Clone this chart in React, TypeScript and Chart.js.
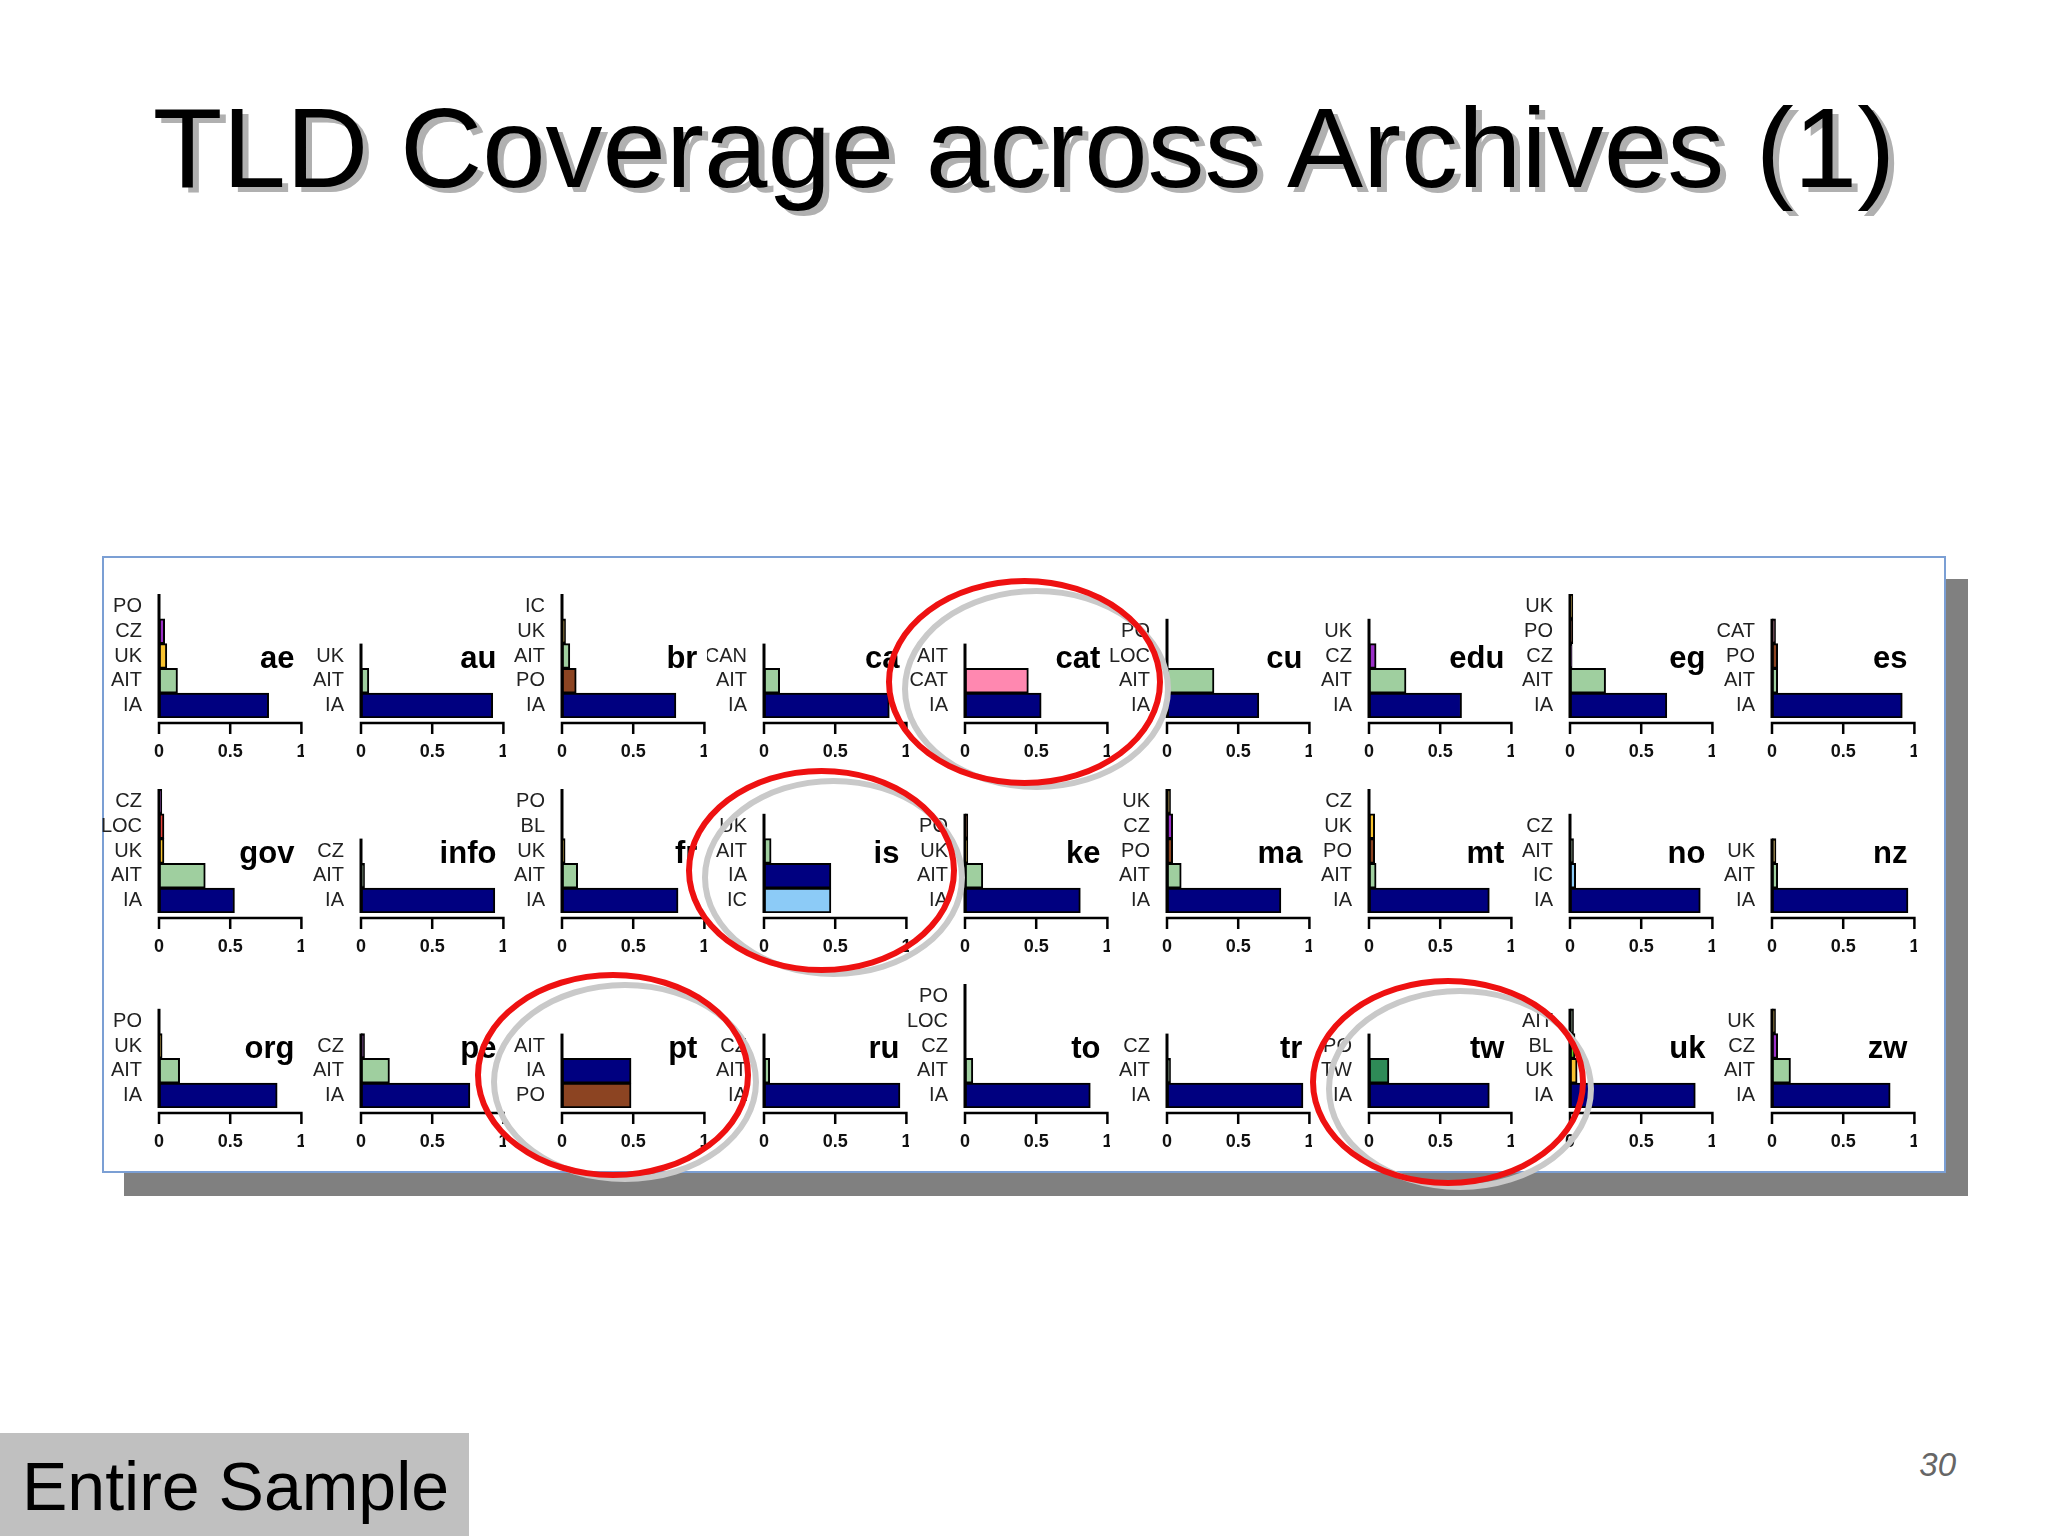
import React, { useEffect, useRef } from 'react';
import { Chart, registerables } from 'chart.js';

Chart.register(...registerables);

// panel names, in reading order (3 rows of 9)
const tlds = [
  'ae', 'au', 'br', 'ca', 'cat', 'cu', 'edu', 'eg', 'es',
  'gov', 'info', 'fr', 'is', 'ke', 'ma', 'mt', 'no', 'nz',
  'org', 'pe', 'pt', 'ru', 'to', 'tr', 'tw', 'uk', 'zw',
];

// archives per panel, top to bottom
const panelCategories: string[][] = [
  ['PO', 'CZ', 'UK', 'AIT', 'IA'],
  ['UK', 'AIT', 'IA'],
  ['IC', 'UK', 'AIT', 'PO', 'IA'],
  ['CAN', 'AIT', 'IA'],
  ['AIT', 'CAT', 'IA'],
  ['PO', 'LOC', 'AIT', 'IA'],
  ['UK', 'CZ', 'AIT', 'IA'],
  ['UK', 'PO', 'CZ', 'AIT', 'IA'],
  ['CAT', 'PO', 'AIT', 'IA'],
  ['CZ', 'LOC', 'UK', 'AIT', 'IA'],
  ['CZ', 'AIT', 'IA'],
  ['PO', 'BL', 'UK', 'AIT', 'IA'],
  ['UK', 'AIT', 'IA', 'IC'],
  ['PO', 'UK', 'AIT', 'IA'],
  ['UK', 'CZ', 'PO', 'AIT', 'IA'],
  ['CZ', 'UK', 'PO', 'AIT', 'IA'],
  ['CZ', 'AIT', 'IC', 'IA'],
  ['UK', 'AIT', 'IA'],
  ['PO', 'UK', 'AIT', 'IA'],
  ['CZ', 'AIT', 'IA'],
  ['AIT', 'IA', 'PO'],
  ['CZ', 'AIT', 'IA'],
  ['PO', 'LOC', 'CZ', 'AIT', 'IA'],
  ['CZ', 'AIT', 'IA'],
  ['PO', 'TW', 'IA'],
  ['AIT', 'BL', 'UK', 'IA'],
  ['UK', 'CZ', 'AIT', 'IA'],
];

// coverage share per archive, same order as above
const panelValues: number[][] = [
  [0, 0.04, 0.055, 0.13, 0.77],
  [0, 0.055, 0.925],
  [0, 0.025, 0.055, 0.1, 0.8],
  [0, 0.11, 0.88],
  [0, 0.445, 0.535],
  [0, 0, 0.33, 0.645],
  [0, 0.05, 0.26, 0.65],
  [0.02, 0.02, 0.015, 0.25, 0.68],
  [0.025, 0.04, 0.04, 0.915],
  [0.02, 0.035, 0.035, 0.325, 0.53],
  [0, 0.025, 0.94],
  [0, 0, 0.022, 0.11, 0.815],
  [0, 0.05, 0.47, 0.47],
  [0.02, 0.02, 0.125, 0.81],
  [0.025, 0.04, 0.04, 0.1, 0.8],
  [0, 0.04, 0.04, 0.05, 0.845],
  [0, 0.025, 0.04, 0.915],
  [0.028, 0.04, 0.955],
  [0, 0.022, 0.145, 0.83],
  [0.025, 0.2, 0.765],
  [0, 0.485, 0.485],
  [0, 0.04, 0.955],
  [0, 0, 0, 0.055, 0.88],
  [0, 0.025, 0.955],
  [0, 0.14, 0.845],
  [0.025, 0.035, 0.05, 0.88],
  [0.025, 0.04, 0.13, 0.83],
];

const xTicks = [0, 0.5, 1];

const archiveColors: Record<string, string> = {
  IA: '#000080',
  AIT: '#9fcf9f',
  UK: '#f8c330',
  CZ: '#9b30c8',
  PO: '#8c4422',
  CAT: '#ff88b0',
  IC: '#8ccbf7',
  LOC: '#e8443a',
  TW: '#2e8b57',
  BL: '#66cc22',
  CAN: '#cccccc',
};

const SLOTS = 5;
const FONT = '"Liberation Sans", Arial, Helvetica, sans-serif';
const PANEL_W = 202;
const PANEL_H = 212;

const makeDecor = (name: string, nReal: number) => ({
  id: 'panelDecor',
  afterDraw(chart: any) {
    const { ctx, chartArea } = chart;
    const xs = chart.scales.x;
    const ys = chart.scales.y;
    const slot = (chartArea.bottom - chartArea.top) / SLOTS;
    const x0 = xs.getPixelForValue(0);
    const x1 = xs.getPixelForValue(1);
    const topY = ys.getPixelForTick(SLOTS - nReal) - slot / 2;

    ctx.save();
    ctx.strokeStyle = '#000';
    ctx.lineWidth = 3;
    // y axis only spans the archives that exist
    ctx.beginPath();
    ctx.moveTo(x0, topY);
    ctx.lineTo(x0, chartArea.bottom);
    ctx.stroke();

    // detached x axis, R style
    const axisY = chartArea.bottom + 5;
    ctx.lineWidth = 2.5;
    ctx.beginPath();
    ctx.moveTo(x0 - 1.25, axisY);
    ctx.lineTo(x1 + 1.25, axisY);
    xTicks.forEach((v) => {
      const px = xs.getPixelForValue(v);
      ctx.moveTo(px, axisY);
      ctx.lineTo(px, axisY + 11);
    });
    ctx.stroke();

    ctx.fillStyle = '#111';
    ctx.font = `bold 18px ${FONT}`;
    ctx.textAlign = 'center';
    ctx.textBaseline = 'middle';
    xTicks.forEach((v) => ctx.fillText(String(v), xs.getPixelForValue(v), chartArea.bottom + 34));

    ctx.fillStyle = '#000';
    ctx.font = `bold 31px ${FONT}`;
    ctx.textAlign = 'right';
    ctx.textBaseline = 'alphabetic';
    ctx.fillText(name, x1 - 7, chartArea.bottom - 2 * slot);
    ctx.restore();
  },
});

const Panel: React.FC<{ index: number }> = ({ index }) => {
  const canvasRef = useRef<HTMLCanvasElement>(null);

  useEffect(() => {
    if (!canvasRef.current) return;
    const cats = panelCategories[index];
    const vals = panelValues[index];
    const pad = SLOTS - cats.length;
    const labels = [...Array(pad).fill(''), ...cats];
    const data = [...Array(pad).fill(null), ...vals];
    const colors = [...Array(pad).fill('transparent'), ...cats.map((c) => archiveColors[c])];

    const chart = new Chart(canvasRef.current, {
      type: 'bar',
      data: {
        labels,
        datasets: [
          {
            data,
            backgroundColor: colors,
            borderColor: '#000',
            borderWidth: 2,
            borderSkipped: false,
            barPercentage: 1,
            categoryPercentage: 1,
          },
        ],
      },
      options: {
        indexAxis: 'y',
        animation: false,
        responsive: false,
        maintainAspectRatio: false,
        layout: { padding: { top: 38, bottom: PANEL_H - 162, left: 0, right: 2.6 } },
        plugins: { legend: { display: false }, tooltip: { enabled: false } },
        scales: {
          x: { display: false, min: 0, max: 1 },
          y: {
            grid: { display: false, drawTicks: false },
            border: { display: false },
            ticks: {
              autoSkip: false,
              padding: 17,
              color: '#222',
              font: { family: FONT, size: 20 },
            },
            afterFit: (scale: any) => {
              scale.width = 57;
            },
          },
        },
      },
      plugins: [makeDecor(tlds[index], cats.length)],
    });

    return () => {
      chart.destroy();
    };
  }, [index]);

  const row = Math.floor(index / 9);
  const col = index % 9;
  return (
    <canvas
      ref={canvasRef}
      width={PANEL_W}
      height={PANEL_H}
      style={{
        position: 'absolute',
        left: 102 + col * 201.6,
        top: 556 + row * 195,
        width: PANEL_W,
        height: PANEL_H,
        zIndex: 2,
      }}
    />
  );
};

// hand-drawn highlight rings
const rings = [
  { left: 886, top: 578, w: 277, h: 208 },
  { left: 686, top: 768, w: 271, h: 205 },
  { left: 475, top: 972, w: 276, h: 206 },
  { left: 1310, top: 978, w: 276, h: 208 },
];

const App: React.FC = () => {
  return (
    <div
      style={{
        position: 'absolute',
        left: 0,
        top: 0,
        width: 2048,
        height: 1536,
        background: '#fff',
        overflow: 'hidden',
        fontFamily: FONT,
      }}
    >
      <div
        style={{
          position: 'absolute',
          left: 0,
          top: 91,
          width: 2048,
          textAlign: 'center',
          fontSize: 114,
          lineHeight: '114px',
          color: '#000',
          textShadow: '6px 5px 0 #b0b0b0',
          whiteSpace: 'nowrap',
        }}
      >
        TLD Coverage across Archives (1)
      </div>

      {/* framed picture with its drop shadow */}
      <div
        style={{
          position: 'absolute',
          left: 102,
          top: 556,
          width: 1844,
          height: 617,
          boxSizing: 'border-box',
          border: '2px solid #7b9fd4',
          background: '#fff',
          boxShadow: '22px 23px 0 #808080',
          zIndex: 1,
        }}
      />

      {tlds.map((_, i) => (
        <Panel key={i} index={i} />
      ))}

      {rings.map((r, i) => (
        <React.Fragment key={i}>
          <div
            style={{
              position: 'absolute',
              left: r.left + 16,
              top: r.top + 10,
              width: r.w - 8,
              height: r.h - 6,
              boxSizing: 'border-box',
              border: '6px solid #c9c9c9',
              borderRadius: '50%',
              zIndex: 3,
            }}
          />
          <div
            style={{
              position: 'absolute',
              left: r.left,
              top: r.top,
              width: r.w,
              height: r.h,
              boxSizing: 'border-box',
              border: '6px solid #ee1111',
              borderRadius: '50%',
              zIndex: 4,
            }}
          />
        </React.Fragment>
      ))}

      <div
        style={{
          position: 'absolute',
          left: 0,
          top: 1433,
          width: 469,
          height: 103,
          background: '#c0c0c0',
        }}
      >
        <div
          style={{
            position: 'absolute',
            left: 22,
            top: 19,
            fontSize: 68,
            lineHeight: '68px',
            color: '#000',
            whiteSpace: 'nowrap',
          }}
        >
          Entire Sample
        </div>
      </div>

      <div
        style={{
          position: 'absolute',
          right: 2048 - 1956,
          top: 1448,
          fontSize: 33,
          lineHeight: '33px',
          fontStyle: 'italic',
          color: '#666',
        }}
      >
        30
      </div>
    </div>
  );
};

export default App;
